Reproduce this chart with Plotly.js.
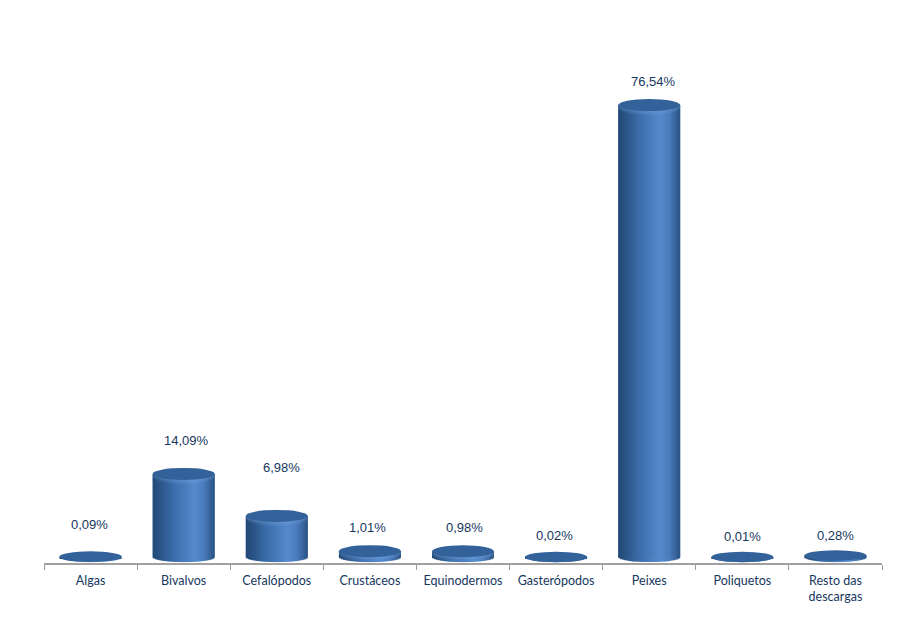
<!DOCTYPE html>
<html>
<head>
<meta charset="utf-8">
<script src="https://cdn.plot.ly/plotly-3.0.1.min.js"></script>
<style>html,body{margin:0;padding:0;background:#fff}#chart{width:897px;height:620px}</style>
</head>
<body>
<div id="chart"></div>
<script>
const categories = ['Algas','Bivalvos','Cefalópodos','Crustáceos','Equinodermos','Gasterópodos','Peixes','Poliquetos','Resto das<br>descargas'];
const shares = [0.09,14.09,6.98,1.01,0.98,0.02,76.54,0.01,0.28];
const shareLabels = ['0,09%','14,09%','6,98%','1,01%','0,98%','0,02%','76,54%','0,01%','0,28%'];
const labelLift = [32,33,48,24,24,21,24,21,20];
const labelNudge = [-1,3,5,-2,1,-2,4,0,0];

const barWidth = 0.665, strips = 31, yMin = -1.0, yMax = 90.95, pxPerUnit = 543 / (yMax - yMin);
const lensPx = 5;
const stops = [[0,[34,72,118]],[0.12,[42,84,134]],[0.35,[60,110,172]],[0.68,[84,138,204]],[0.82,[74,124,188]],[0.94,[52,98,152]],[1,[42,82,128]]];
function shade(t){
  for(let i=1;i<stops.length;i++){
    if(t<=stops[i][0]){
      const a=stops[i-1],b=stops[i],f=(t-a[0])/(b[0]-a[0]);
      const c=a[1].map((v,k)=>Math.round(v+(b[1][k]-v)*f));
      return 'rgb('+c.join(',')+')';
    }
  }
  return 'rgb('+stops[stops.length-1][1].join(',')+')';
}

const traces = [{type:'bar',x:categories,y:shares,width:barWidth,marker:{color:'#3a6aa6',line:{width:0}},hoverinfo:'x+y',name:'Descargas'}];
for(let i=0;i<strips;i++){
  const w=barWidth/strips, t=(i+0.5)/strips, u=2*t-1;
  const depth=lensPx*Math.sqrt(1-u*u)/pxPerUnit;
  traces.push({type:'bar',x:categories,
    y:shares.map(v=>v+depth),
    base:categories.map(()=>-depth),
    width:categories.map(()=>i===strips-1?w:w*1.35),
    offset:categories.map(()=>-barWidth/2+i*w),
    marker:{color:shade(t),line:{width:0}},hoverinfo:'skip',showlegend:false});
}

const ellipse=(x,v,h,shift,color)=>({type:'circle',xref:'x',yref:'y',layer:'above',
  x0:categories.indexOf(x)-barWidth/2,x1:categories.indexOf(x)+barWidth/2,
  ysizemode:'pixel',yanchor:v,y0:-h+shift,y1:h+shift,fillcolor:color,line:{width:0}});
const shapes=[];
categories.forEach((c,i)=>{
  const v=shares[i];
  if(v>0.5){
    shapes.push(ellipse(c,v,7.6,-2.6,'rgba(125,170,225,0.16)'));
    shapes.push(ellipse(c,v,6.6,-1.2,'rgba(125,170,225,0.22)'));
  }
  shapes.push(ellipse(c,v,v>0.5?6:5.2,0,'#33629a'));
});

const annotations=categories.map((c,i)=>({x:c,y:shares[i],xref:'x',yref:'y',text:shareLabels[i],
  showarrow:false,yanchor:'middle',yshift:labelLift[i],xshift:labelNudge[i],font:{family:'Liberation Sans, Arial, sans-serif',size:13,color:'#17375e'}}));

const layout={
  width:897,height:620,margin:{l:43.5,r:14.5,t:20,b:57},
  paper_bgcolor:'#fff',plot_bgcolor:'#fff',showlegend:false,barmode:'overlay',bargap:0.335,
  xaxis:{type:'category',categoryorder:'array',categoryarray:categories,range:[-0.5,8.5],tickson:'boundaries',
    ticks:'outside',ticklen:5,tickwidth:1,tickcolor:'#9a9a9a',showline:true,linecolor:'#a0a0a0',linewidth:1.5,
    showgrid:false,zeroline:false,tickangle:0,automargin:false,ticklabelstandoff:5,
    tickfont:{family:'Lato, Carlito, sans-serif',size:12.5,color:'#17375e'}},
  yaxis:{range:[yMin,yMax],visible:false,showgrid:false,zeroline:false,fixedrange:true},
  shapes:shapes,annotations:annotations
};
Plotly.newPlot('chart',traces,layout,{displayModeBar:false,responsive:false});
</script>
</body>
</html>
